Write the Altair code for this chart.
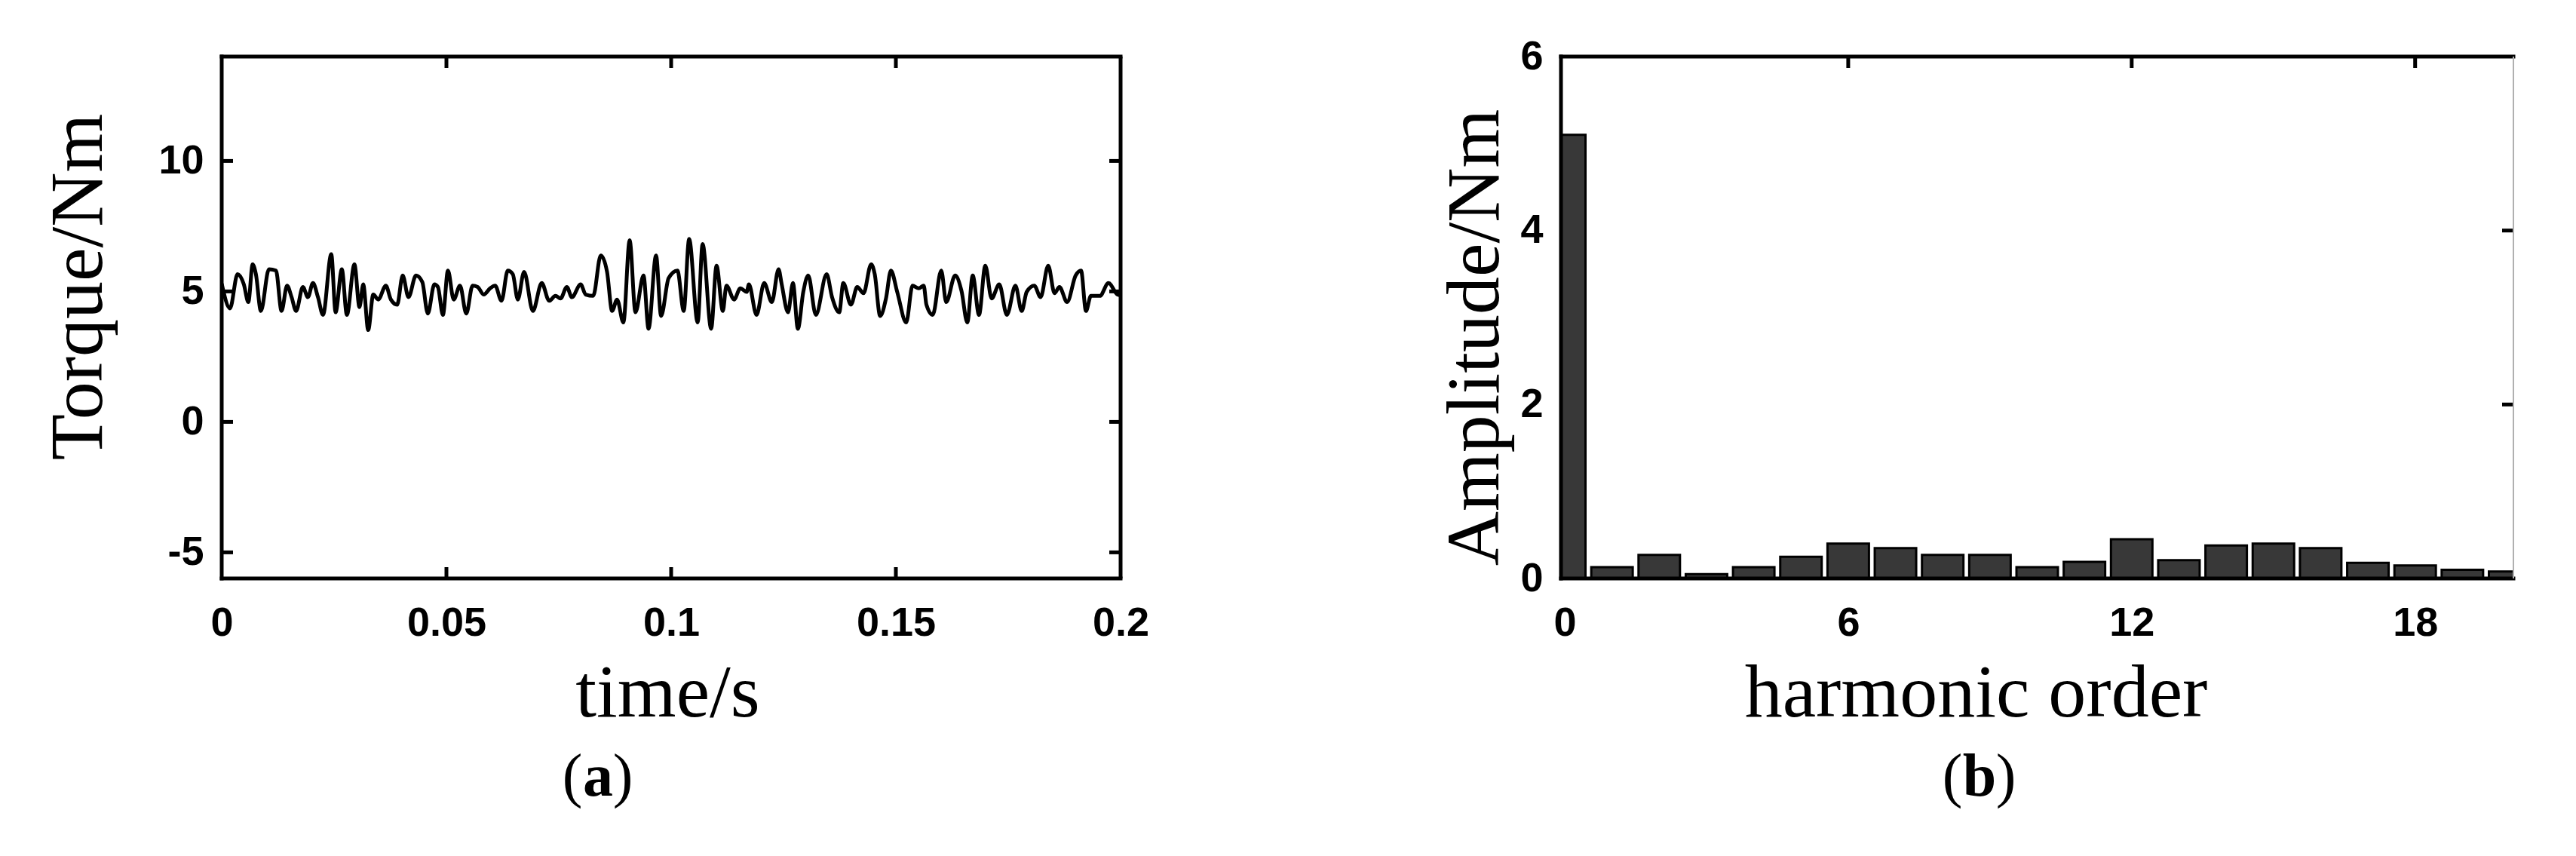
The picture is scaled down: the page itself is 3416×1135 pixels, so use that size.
import altair as alt
import pandas as pd

# ---------------- data ----------------
time_s = [
    0.0, 0.00185, 0.00352, 0.00492, 0.00593, 0.00688, 0.00761, 0.00872, 0.01051, 0.01208,
    0.01331, 0.01454, 0.01555, 0.01655, 0.01806, 0.01918, 0.02030, 0.02142, 0.02254, 0.02438,
    0.02534, 0.02673, 0.02785, 0.02953, 0.03065, 0.03149, 0.03260, 0.03372, 0.03484, 0.03652,
    0.03764, 0.03904, 0.04027, 0.04155, 0.04323, 0.04463, 0.04586, 0.04732, 0.04810, 0.04922,
    0.05034, 0.05162, 0.05302, 0.05442, 0.05582, 0.05694, 0.05833, 0.05973, 0.06085, 0.06225,
    0.06365, 0.06477, 0.06588, 0.06728, 0.06924, 0.07120, 0.07287, 0.07427, 0.07539, 0.07679,
    0.07791, 0.07987, 0.08098, 0.08266, 0.08434, 0.08574, 0.08686, 0.08797, 0.08937, 0.09077,
    0.09206, 0.09385, 0.09497, 0.09664, 0.09776, 0.09944, 0.10140, 0.10280, 0.10400, 0.10590,
    0.10700, 0.10890, 0.11010, 0.11150, 0.11230, 0.11400, 0.11540, 0.11680, 0.11730, 0.11900,
    0.12070, 0.12240, 0.12390, 0.12460, 0.12600, 0.12710, 0.12820, 0.12940, 0.13050, 0.13220,
    0.13460, 0.13580, 0.13740, 0.13830, 0.14000, 0.14140, 0.14280, 0.14450, 0.14530, 0.14650,
    0.14780, 0.14890, 0.15030, 0.15230, 0.15370, 0.15510, 0.15620, 0.15680, 0.15820, 0.16010,
    0.16120, 0.16320, 0.16460, 0.16590, 0.16710, 0.16850, 0.16990, 0.17130, 0.17300, 0.17470,
    0.17660, 0.17800, 0.17910, 0.18080, 0.18220, 0.18390, 0.18530, 0.18640, 0.18810, 0.19000,
    0.19120, 0.19230, 0.19340, 0.19540, 0.19730, 0.19930, 0.20000,
]
torque_nm = [
    5.30, 4.35, 5.66, 5.27, 4.59, 6.04, 5.66, 4.25, 5.85, 5.80,
    4.25, 5.22, 4.78, 4.25, 5.17, 4.78, 5.32, 4.78, 4.10, 6.43,
    4.20, 5.85, 4.10, 6.04, 4.40, 5.27, 3.52, 4.88, 4.69, 5.22,
    4.69, 4.49, 5.61, 4.78, 5.61, 5.36, 4.15, 5.27, 5.17, 4.10,
    5.80, 4.69, 5.22, 4.15, 5.22, 5.17, 4.88, 5.12, 5.22, 4.64,
    5.80, 5.66, 4.69, 5.75, 4.25, 5.32, 4.64, 4.83, 4.73, 5.17,
    4.78, 5.27, 4.88, 4.83, 6.38, 5.75, 4.25, 4.69, 3.81, 6.96,
    4.20, 5.61, 3.57, 6.38, 4.06, 5.51, 5.80, 4.25, 7.01, 3.81,
    6.82, 3.57, 5.99, 4.25, 5.22, 4.69, 5.12, 4.98, 5.27, 4.10,
    5.32, 4.59, 5.85, 5.27, 4.20, 5.32, 3.57, 4.98, 5.61, 4.10,
    5.66, 4.78, 4.20, 5.32, 4.49, 5.17, 4.93, 6.04, 5.66, 4.06,
    4.73, 5.80, 4.98, 3.81, 5.22, 5.12, 5.22, 4.49, 4.10, 5.80,
    4.59, 5.61, 5.02, 3.81, 5.61, 4.10, 5.99, 4.73, 5.27, 4.10,
    5.22, 4.25, 4.98, 5.22, 4.78, 5.99, 4.93, 5.17, 4.59, 5.61,
    5.80, 4.25, 4.83, 4.83, 5.32, 4.88, 4.85,
]
harmonic_order = list(range(21))
amplitude_nm = [5.10, 0.13, 0.27, 0.05, 0.13, 0.25, 0.40, 0.35, 0.27, 0.27,
                0.13, 0.19, 0.45, 0.21, 0.38, 0.40, 0.35, 0.18, 0.15, 0.10, 0.08]

time_ticks = [0, 0.05, 0.1, 0.15, 0.2]
torque_ticks = [-5, 0, 5, 10]
order_ticks = [0, 6, 12, 18]
amp_ticks = [0, 2, 4, 6]

# ---------------- styling ----------------
W1, H1 = 1192, 692
W2, H2 = 1263, 692
TICK = 15
FRAME = 5
LABEL_FONT = "Liberation Sans"
TITLE_FONT = "Liberation Serif"
LABEL_SIZE = 54
TITLE_SIZE = 100
CAP_SIZE = 80
CAP_Y = 980

df_t = pd.DataFrame({"t": time_s, "torque": torque_nm})
df_h = pd.DataFrame({"order": harmonic_order, "amp": amplitude_nm})
one = pd.DataFrame({"k": [0]})


def axis(values, title, **kw):
    return alt.Axis(
        values=values, labelExpr="datum.value + ''", ticks=False, domain=False,
        grid=False, labelFlush=False, labelFont=LABEL_FONT, labelFontSize=LABEL_SIZE,
        labelFontWeight="bold", labelColor="black", title=title,
        titleFont=TITLE_FONT, titleFontSize=TITLE_SIZE, titleFontWeight="normal",
        titleColor="black", titleBaseline="alphabetic", titleAlign="center", **kw)


def frame(W, H, right_color="black", right_width=FRAME):
    base = alt.Chart(one)
    return [
        base.mark_rule(color="black", strokeWidth=FRAME, strokeCap="square").encode(
            x=alt.value(0), x2=alt.value(W), y=alt.value(0)),
        base.mark_rule(color="black", strokeWidth=FRAME, strokeCap="square").encode(
            x=alt.value(0), x2=alt.value(W), y=alt.value(H)),
        base.mark_rule(color="black", strokeWidth=FRAME, strokeCap="square").encode(
            x=alt.value(0), y=alt.value(0), y2=alt.value(H)),
        base.mark_rule(color=right_color, strokeWidth=right_width).encode(
            x=alt.value(W), y=alt.value(0), y2=alt.value(H)),
    ]


def caption(letter, centers):
    base = alt.Chart(one)
    out = []
    for txt, cx, bold in [("(", centers[0], False), (letter, centers[1], True), (")", centers[2], False)]:
        out.append(base.mark_text(text=txt, font=TITLE_FONT, fontSize=CAP_SIZE,
                                  fontWeight="bold" if bold else "normal", color="black",
                                  baseline="alphabetic", align="center").encode(
            x=alt.value(cx), y=alt.value(CAP_Y)))
    return out


# ---------------- panel (a) ----------------
xs1 = alt.Scale(domain=[0, 0.2], nice=False, zero=False)
ys1 = alt.Scale(domain=[-6, 14], nice=False, zero=False)
xa1 = axis(time_ticks, "time/s", labelPadding=32, titleX=591, titleY=182)
ya1 = axis(torque_ticks, "Torque/Nm", labelPadding=24, titleAngle=270, titleX=-160, titleY=305)

line = alt.Chart(df_t).mark_line(color="black", strokeWidth=5, interpolate="monotone", clip=True).encode(
    x=alt.X("t:Q", scale=xs1, axis=xa1),
    y=alt.Y("torque:Q", scale=ys1, axis=ya1),
)
tx1 = pd.DataFrame({"t": time_ticks[1:-1]})
ty1 = pd.DataFrame({"torque": torque_ticks})
tick_rules1 = [
    alt.Chart(tx1).mark_rule(color="black", strokeWidth=FRAME).encode(
        x=alt.X("t:Q", scale=xs1, axis=xa1), y=alt.value(H1), y2=alt.value(H1 - TICK)),
    alt.Chart(tx1).mark_rule(color="black", strokeWidth=FRAME).encode(
        x=alt.X("t:Q", scale=xs1, axis=xa1), y=alt.value(0), y2=alt.value(TICK)),
    alt.Chart(ty1).mark_rule(color="black", strokeWidth=FRAME).encode(
        y=alt.Y("torque:Q", scale=ys1, axis=ya1), x=alt.value(0), x2=alt.value(TICK)),
    alt.Chart(ty1).mark_rule(color="black", strokeWidth=FRAME).encode(
        y=alt.Y("torque:Q", scale=ys1, axis=ya1), x=alt.value(W1 - TICK), x2=alt.value(W1)),
]
panel_a = alt.layer(line, *tick_rules1, *frame(W1, H1), *caption("a", [465, 499, 532])).properties(
    width=W1, height=H1)

# ---------------- panel (b) ----------------
xs2 = alt.Scale(domain=[0, 20], nice=False, zero=False)
ys2 = alt.Scale(domain=[0, 6], nice=False)
xa2 = axis(order_ticks, "harmonic order", labelPadding=32, titleX=550, titleY=182)
ya2 = axis(amp_ticks, "Amplitude/Nm", labelPadding=24, titleAngle=270, titleX=-84, titleY=372)

bars = alt.Chart(df_h).mark_bar(size=55, clip=True, fill="#383838", stroke="black", strokeWidth=3).encode(
    x=alt.X("order:Q", scale=xs2, axis=xa2),
    y=alt.Y("amp:Q", scale=ys2, axis=ya2),
)
tx2 = pd.DataFrame({"order": order_ticks[1:]})
ty2 = pd.DataFrame({"amp": amp_ticks[1:-1]})
tick_rules2 = [
    alt.Chart(tx2).mark_rule(color="black", strokeWidth=FRAME).encode(
        x=alt.X("order:Q", scale=xs2, axis=xa2), y=alt.value(0), y2=alt.value(TICK)),
    alt.Chart(ty2).mark_rule(color="black", strokeWidth=FRAME).encode(
        y=alt.Y("amp:Q", scale=ys2, axis=ya2), x=alt.value(W2 - TICK), x2=alt.value(W2)),
]
panel_b = alt.layer(bars, *tick_rules2, *frame(W2, H2, right_color="#b0b0b0", right_width=2),
                    *caption("b", [519, 555, 590])).properties(width=W2, height=H2)

chart = alt.hconcat(panel_a, panel_b, spacing=584, bounds="flush").properties(
    padding={"left": 46, "top": 40, "right": 5, "bottom": 5},
    background="white",
).configure_view(stroke=None)

chart.save("out.html", embed_options={"renderer": "svg", "actions": False})
